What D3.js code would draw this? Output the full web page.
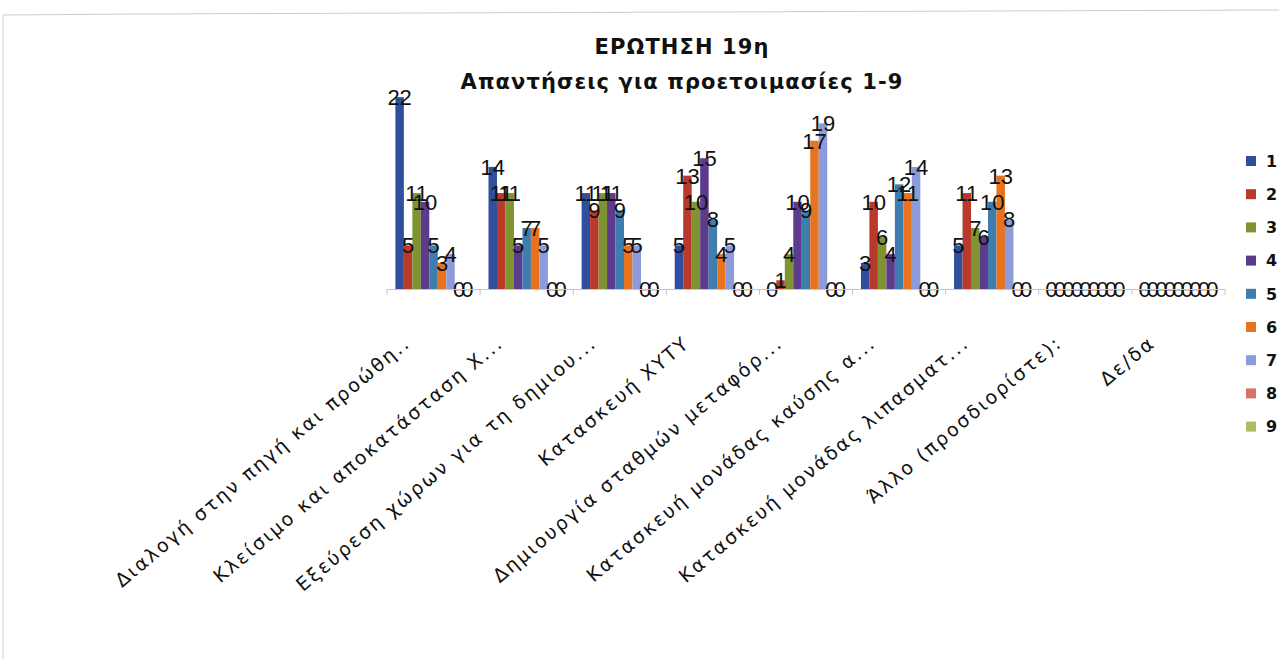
<!DOCTYPE html>
<html><head><meta charset="utf-8">
<script src="https://cdn.jsdelivr.net/npm/d3@7"></script>
<style>body{margin:0;background:#fff;overflow:hidden}</style>
</head><body>
<svg id="c" width="1279" height="659"></svg>
<script>
const categories = [
  "Διαλογή στην πηγή και προώθη..",
  "Κλείσιμο και αποκατάσταση Χ...",
  "Εξεύρεση χώρων για τη δημιου...",
  "Κατασκευή ΧΥΤΥ",
  "Δημιουργία σταθμών μεταφόρ...",
  "Κατασκευή μονάδας καύσης α...",
  "Κατασκευή μονάδας λιπασματ...",
  "Άλλο (προσδιορίστε):",
  "Δε/δα"
];
const seriesNames = ["1","2","3","4","5","6","7","8","9"];
const s1 = [22,14,11,5,0,3,5,0,0];
const s2 = [5,11,9,13,1,10,11,0,0];
const s3 = [11,11,11,10,4,6,7,0,0];
const s4 = [10,5,11,15,10,4,6,0,0];
const s5 = [5,7,9,8,9,12,10,0,0];
const s6 = [3,7,5,4,17,11,13,0,0];
const s7 = [4,5,5,5,19,14,8,0,0];
const s8 = [0,0,0,0,0,0,0,0,0];
const s9 = [0,0,0,0,0,0,0,0,0];
const seriesValues = [s1,s2,s3,s4,s5,s6,s7,s8,s9];
const colors = ["#2F4F9E","#B9392B","#7F9333","#5C3B8D","#3F7DAF","#E8731E","#8C9BD9","#D9706A","#AABD67"];
const titleLines = ["ΕΡΩΤΗΣΗ  19η","Απαντήσεις  για  προετοιμασίες  1-9"];

const svg = d3.select("#c");
// scan border
svg.append("path").attr("d","M3,659 L3,15 L140,14 L1279,10").attr("fill","none").attr("stroke","#c9ccd0").attr("stroke-width",1);

const x0 = d3.scaleBand().domain(categories).range([387,1225]).paddingInner(0.18).paddingOuter(0.09);
const x1 = d3.scaleBand().domain(seriesNames).range([0,x0.bandwidth()]);
const y = d3.scaleLinear().domain([0,25]).range([289,71]);

// title
[54,89].forEach((ty,i)=>{
  svg.append("text").attr("x",682).attr("y",ty).attr("text-anchor","middle")
    .attr("font-family","DejaVu Sans").attr("font-weight","bold").attr("font-size",21).attr("letter-spacing",1.1)
    .attr("fill","#111").text(titleLines[i]);
});

// bars
const g = svg.append("g");
categories.forEach((c,ci)=>{
  seriesNames.forEach((s,si)=>{
    const v = seriesValues[si][ci];
    g.append("rect").attr("x",x0(c)+x1(s)).attr("width",x1.bandwidth())
      .attr("y",y(v)).attr("height",Math.max(1.5,y(0)-y(v))).attr("fill",colors[si]);
  });
});

// axis
const band = d3.scaleBand().domain(categories).range([387,1225]);
const axis = d3.axisBottom(band).tickSize(0).tickFormat("");
const ax = svg.append("g").attr("transform","translate(0,289)").call(axis);
ax.select(".domain").attr("stroke","#c3c6ca");
const bounds = d3.range(categories.length+1).map(i=>387+i*band.step());
svg.selectAll(".bt").data(bounds).enter().append("line")
  .attr("x1",d=>d).attr("x2",d=>d).attr("y1",289).attr("y2",295).attr("stroke","#c3c6ca");

// labels
categories.forEach((c,ci)=>{
  seriesNames.forEach((s,si)=>{
    const v = seriesValues[si][ci];
    g.append("text").attr("x",x0(c)+x1(s)+x1.bandwidth()/2).attr("y",y(v)).attr("dy","0.36em")
      .attr("text-anchor","middle").attr("font-family","Liberation Sans").attr("font-size",22).attr("fill","#111").text(v);
  });
});

// category labels
categories.forEach((c,ci)=>{
  const cx = band(c)+band.bandwidth()/2 - 22;
  svg.append("text").attr("transform",`translate(${cx},345) rotate(-40)`)
    .attr("text-anchor","end").attr("font-family","DejaVu Sans").attr("font-size",19).attr("letter-spacing",2.2)
    .attr("fill","#111").text(c);
});

// legend
seriesNames.forEach((s,si)=>{
  const ly = 161 + si*33.2;
  svg.append("rect").attr("x",1246).attr("y",ly-5).attr("width",10).attr("height",10).attr("fill",colors[si]);
  svg.append("text").attr("x",1266).attr("y",ly).attr("dy","0.36em").attr("font-family","DejaVu Sans").attr("font-weight","bold")
    .attr("font-size",16).attr("fill","#111").text(s);
});
</script>
</body></html>
